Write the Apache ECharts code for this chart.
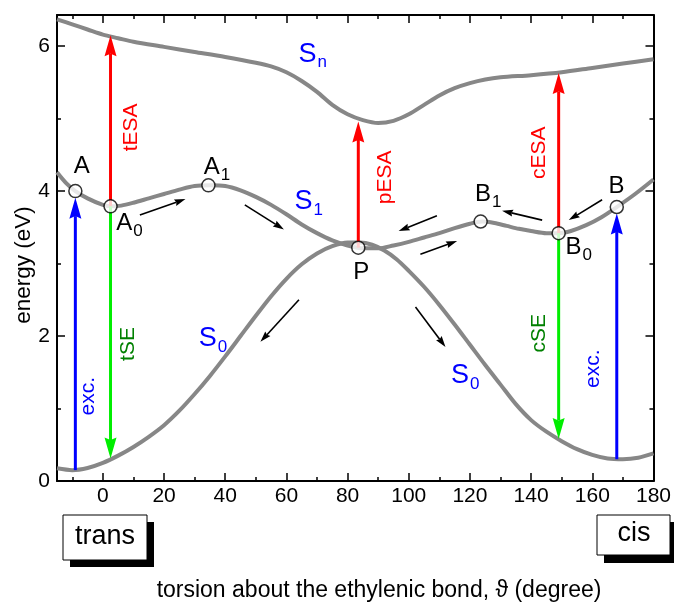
<!DOCTYPE html>
<html>
<head>
    <meta charset="utf-8">
    <title>Stilbene potential energy surfaces</title>
    <script src="https://cdn.jsdelivr.net/npm/echarts@6/dist/echarts.min.js"></script>
    <style>
        html, body { margin: 0; padding: 0; background: #fff; }
        #chart { width: 674px; height: 603px; }
    </style>
</head>
<body>
<div id="chart"></div>
<script type="text/javascript">
    // potential curves, [torsion (deg), energy (eV)]
    var snCurve = [[-15, 6.37], [-10, 6.30], [-5, 6.23], [0, 6.16], [5, 6.11], [10, 6.06], [20, 5.99], [30, 5.92],
        [40, 5.85], [50, 5.77], [55, 5.72], [60, 5.64], [65, 5.52], [70, 5.37], [75, 5.19], [80, 5.06], [85, 4.98],
        [90, 4.94], [95, 4.97], [100, 5.06], [105, 5.19], [110, 5.32], [115, 5.42], [120, 5.49], [125, 5.54],
        [130, 5.57], [140, 5.60], [150, 5.64], [160, 5.70], [170, 5.76], [180, 5.82]];
    var s1Curve = [[-15, 4.26], [-12, 4.11], [-9, 4.00], [-5, 3.90], [0, 3.81], [3, 3.79], [6, 3.80], [10, 3.84],
        [15, 3.90], [20, 3.96], [25, 4.02], [30, 4.07], [35, 4.08], [40, 4.07], [45, 4.01], [50, 3.92], [55, 3.81],
        [60, 3.68], [65, 3.54], [70, 3.42], [75, 3.32], [80, 3.25], [85, 3.21], [90, 3.21], [95, 3.25], [100, 3.30],
        [105, 3.36], [110, 3.42], [115, 3.49], [120, 3.55], [124, 3.58], [128, 3.56], [132, 3.52], [136, 3.48],
        [140, 3.45], [145, 3.42], [149, 3.42], [153, 3.45], [158, 3.53], [163, 3.64], [168, 3.78], [174, 3.96], [180, 4.16]];
    var s0Curve = [[-15, 0.175], [-10, 0.15], [-5, 0.18], [0, 0.25], [5, 0.35], [10, 0.47], [15, 0.61], [20, 0.77],
        [25, 0.97], [30, 1.20], [35, 1.45], [40, 1.72], [45, 2.00], [50, 2.28], [55, 2.55], [60, 2.79], [65, 2.99],
        [70, 3.14], [75, 3.24], [80, 3.29], [84, 3.29], [88, 3.26], [92, 3.18], [96, 3.06], [100, 2.90], [105, 2.68],
        [110, 2.43], [115, 2.16], [120, 1.88], [125, 1.60], [130, 1.33], [135, 1.06], [140, 0.84], [145, 0.68],
        [150, 0.55], [155, 0.44], [160, 0.36], [165, 0.31], [170, 0.30], [175, 0.32], [180, 0.38]];

    // stationary points on S1
    var points = [[-9, 4.00], [2.5, 3.79], [34.5, 4.08], [83.5, 3.22], [123.5, 3.58], [149, 3.42], [168, 3.78]];

    // vertical transitions [torsion, from, to]
    var excArrows = [[-9, 0.15, 3.91], [168, 0.30, 3.69]];
    var esaArrows = [[2.5, 3.79, 6.15], [83.5, 3.22, 4.96], [149, 3.42, 5.63]];
    var seArrows = [[2.5, 3.79, 0.31], [149, 3.42, 0.58]];

    // relaxation paths [x1, y1, x2, y2]
    var pathArrows = [[12.1, 3.67, 27.0, 3.89], [46.4, 3.81, 59.2, 3.47], [64.1, 2.50, 51.5, 1.92],
        [102.2, 2.40, 112.0, 1.85], [109.2, 3.66, 96.7, 3.45], [103.8, 3.13, 115.8, 3.31],
        [143.6, 3.60, 130.5, 3.73], [163.2, 3.88, 152.3, 3.60]];

    // point / state labels [x, y, text, subscript, kind]
    var stateLabels = [[-6.9, 4.34, 'A', '', 'pt'], [9.6, 3.56, 'A', '0', 'pt'], [38.2, 4.33, 'A', '1', 'pt'],
        [84.5, 2.88, 'P', '', 'pt'], [126.9, 3.96, 'B', '1', 'pt'], [156.5, 3.22, 'B', '0', 'pt'],
        [167.9, 4.07, 'B', '', 'pt'], [69.8, 5.89, 'S', 'n', 'st'], [68.5, 3.85, 'S', '1', 'st'],
        [37.2, 1.96, 'S', '0', 'st'], [119.7, 1.45, 'S', '0', 'st']];
    // transition labels [x, y, text, kind]
    var transLabels = [[9.1, 4.88, 'tESA', 'esa'], [-4.9, 1.17, 'exc.', 'exc'], [8.2, 1.89, 'tSE', 'se'],
        [92.3, 4.19, 'pESA', 'esa'], [142.8, 4.53, 'cESA', 'esa'], [142.5, 2.04, 'cSE', 'se'], [160.2, 1.55, 'exc.', 'exc']];

    var xMajor = [0, 20, 40, 60, 80, 100, 120, 140, 160, 180];
    var xMinor = [-10, 10, 30, 50, 70, 90, 110, 130, 150, 170];
    var yMajor = [0, 2, 4, 6];
    var yMinor = [1, 3, 5];

    var FONT = '"Liberation Sans", Arial, Helvetica, sans-serif';
    var textColor = {pt: '#000', st: '#0000ff', esa: '#ff0000', exc: '#0000ff', se: '#008000'};

    function arrowParts(p0, p1, color, lw, headLen, headW) {
        var dx = p1[0] - p0[0], dy = p1[1] - p0[1];
        var len = Math.sqrt(dx * dx + dy * dy);
        var ux = dx / len, uy = dy / len, nx = -uy, ny = ux;
        var bx = p1[0] - ux * headLen, by = p1[1] - uy * headLen;
        var notch = headLen * 0.12;
        return [
            {type: 'line', shape: {x1: p0[0], y1: p0[1], x2: bx + ux * notch, y2: by + uy * notch},
                style: {stroke: color, lineWidth: lw}},
            {type: 'polygon', shape: {points: [[p1[0], p1[1]], [bx + nx * headW / 2, by + ny * headW / 2],
                    [bx + ux * notch, by + uy * notch], [bx - nx * headW / 2, by - ny * headW / 2]]},
                style: {fill: color}}
        ];
    }

    function verticalArrowSeries(list, color) {
        return {
            type: 'custom', z: 3, silent: true,
            data: list.map(function (a) { return [a[0], a[1]]; }),
            renderItem: function (params, api) {
                var a = list[params.dataIndex];
                var p0 = api.coord([a[0], a[1]]), p1 = api.coord([a[0], a[2]]);
                return {type: 'group', children: arrowParts(p0, p1, color, 3, 21, 12)};
            }
        };
    }

    function axisX(pos, values, len, showLabel, showLine) {
        return {
            type: 'value', position: pos, min: -15, max: 180,
            axisLine: {show: showLine, onZero: false, lineStyle: {color: '#000', width: 2}},
            axisTick: {show: true, inside: true, length: len, customValues: values, lineStyle: {color: '#000', width: 1.5}},
            axisLabel: showLabel ? {customValues: values, color: '#000', fontSize: 21, fontFamily: FONT, margin: 5} : {show: false},
            splitLine: {show: false}
        };
    }
    function axisY(pos, values, len, showLabel, showLine) {
        return {
            type: 'value', position: pos, min: 0, max: 6.43,
            axisLine: {show: showLine, onZero: false, lineStyle: {color: '#000', width: 2}},
            axisTick: {show: true, inside: true, length: len, customValues: values, lineStyle: {color: '#000', width: 1.5}},
            axisLabel: showLabel ? {customValues: values, color: '#000', fontSize: 21, fontFamily: FONT, margin: 7} : {show: false},
            splitLine: {show: false}
        };
    }

    var myChart = echarts.init(document.getElementById('chart'), null, {renderer: 'canvas'});

    var curveStyle = {color: '#878787', width: 4};
    var option = {
        animation: false,
        backgroundColor: '#fff',
        grid: {left: 57, right: 19, top: 15, bottom: 122, containLabel: false},
        xAxis: [
            axisX('bottom', xMajor, 8, true, true),
            axisX('bottom', xMinor, 4, false, false),
            axisX('top', xMajor, 8, false, true),
            axisX('top', xMinor, 4, false, false)
        ],
        yAxis: [
            axisY('left', yMajor, 8, true, true),
            axisY('left', yMinor, 4, false, false),
            axisY('right', yMajor, 8, false, true),
            axisY('right', yMinor, 4, false, false)
        ],
        series: [
            {type: 'line', name: 'Sn', data: snCurve, smooth: 0.3, showSymbol: false, lineStyle: curveStyle, z: 2, silent: true},
            {type: 'line', name: 'S1', data: s1Curve, smooth: 0.3, showSymbol: false, lineStyle: curveStyle, z: 2, silent: true},
            {type: 'line', name: 'S0', data: s0Curve, smooth: 0.3, showSymbol: false, lineStyle: curveStyle, z: 2, silent: true},
            verticalArrowSeries(excArrows, '#0000ff'),
            verticalArrowSeries(esaArrows, '#ff0000'),
            verticalArrowSeries(seArrows, '#00ee00'),
            {
                type: 'custom', z: 3, silent: true,
                data: pathArrows.map(function (a) { return [a[0], a[1]]; }),
                renderItem: function (params, api) {
                    var a = pathArrows[params.dataIndex];
                    var p0 = api.coord([a[0], a[1]]), p1 = api.coord([a[2], a[3]]);
                    return {type: 'group', children: arrowParts(p0, p1, '#000', 1.6, 11, 7)};
                }
            },
            {
                type: 'scatter', data: points, symbol: 'circle', symbolSize: 13, z: 4, silent: true,
                itemStyle: {color: '#fff', borderColor: '#000', borderWidth: 1.5}
            },
            {
                type: 'custom', z: 5, silent: true,
                data: stateLabels.map(function (l) { return [l[0], l[1]]; }),
                renderItem: function (params, api) {
                    var l = stateLabels[params.dataIndex];
                    var p = api.coord([l[0], l[1]]);
                    var big = l[4] === 'st' ? 27 : 24;
                    var col = textColor[l[4]];
                    var kids = [{
                        type: 'text', x: p[0], y: p[1],
                        style: {text: l[2], fill: col, font: big + 'px ' + FONT,
                            align: l[3] ? 'right' : 'center', verticalAlign: 'middle'}
                    }];
                    if (l[3]) {
                        kids.push({
                            type: 'text', x: p[0] + 1, y: p[1] + 8,
                            style: {text: l[3], fill: col, font: '17px ' + FONT, align: 'left', verticalAlign: 'middle'}
                        });
                    }
                    return {type: 'group', children: kids};
                }
            },
            {
                type: 'custom', z: 5, silent: true,
                data: transLabels.map(function (l) { return [l[0], l[1]]; }),
                renderItem: function (params, api) {
                    var l = transLabels[params.dataIndex];
                    var p = api.coord([l[0], l[1]]);
                    return {
                        type: 'text', x: p[0], y: p[1], rotation: Math.PI / 2,
                        style: {text: l[2], fill: textColor[l[3]], font: '21px ' + FONT, align: 'center', verticalAlign: 'middle'}
                    };
                }
            }
        ],
        graphic: [
            {type: 'text', x: 24, y: 265, rotation: Math.PI / 2,
                style: {text: 'energy (eV)', fill: '#000', font: '22.5px ' + FONT, align: 'center', verticalAlign: 'middle'}},
            {type: 'text', x: 379, y: 591,
                style: {text: 'torsion about the ethylenic bond, \u03D1 (degree)', fill: '#000', font: '23px ' + FONT, align: 'center', verticalAlign: 'middle'}},
            {type: 'rect', shape: {x: 70, y: 522, width: 84, height: 45}, style: {fill: '#000'}},
            {type: 'rect', shape: {x: 63, y: 515, width: 84, height: 45}, style: {fill: '#fff', stroke: '#000', lineWidth: 1}},
            {type: 'text', x: 105, y: 537, style: {text: 'trans', fill: '#000', font: '27px ' + FONT, align: 'center', verticalAlign: 'middle'}},
            {type: 'rect', shape: {x: 604, y: 522, width: 74, height: 41}, style: {fill: '#000'}},
            {type: 'rect', shape: {x: 597, y: 515, width: 73, height: 40}, style: {fill: '#fff', stroke: '#000', lineWidth: 1}},
            {type: 'text', x: 634, y: 534, style: {text: 'cis', fill: '#000', font: '27px ' + FONT, align: 'center', verticalAlign: 'middle'}}
        ]
    };

    myChart.setOption(option);
</script>
</body>
</html>
